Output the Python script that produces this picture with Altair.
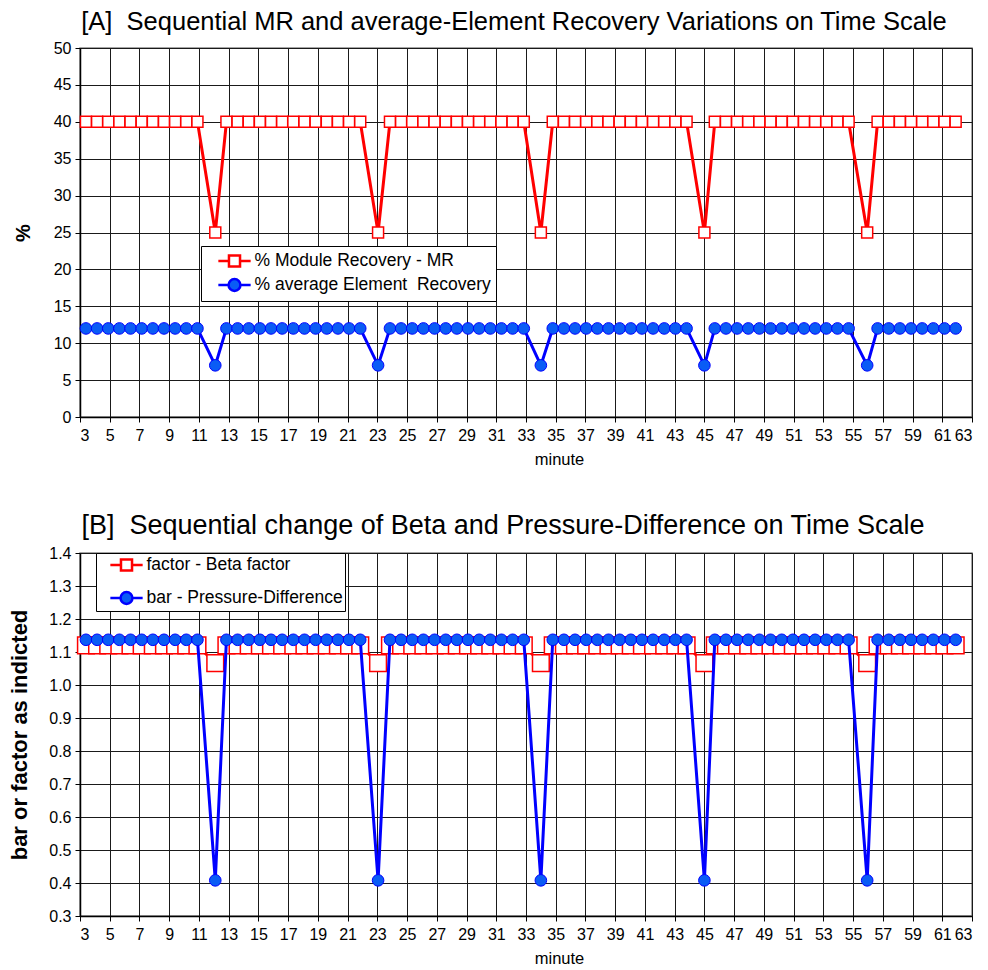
import altair as alt
import pandas as pd

# ---- data ----
minute = [3.4, 4.15, 4.9, 5.65, 6.4, 7.15, 7.9, 8.65, 9.4, 10.15, 10.9,
          12.1,
          12.85, 13.6, 14.35, 15.1, 15.85, 16.6, 17.35, 18.1, 18.85, 19.6, 20.35, 21.1, 21.85,
          23.05,
          23.85, 24.6, 25.35, 26.1, 26.85, 27.6, 28.35, 29.1, 29.85, 30.6, 31.35, 32.1, 32.85,
          34.0,
          34.8, 35.55, 36.3, 37.05, 37.8, 38.55, 39.3, 40.05, 40.8, 41.55, 42.3, 43.05, 43.8,
          45.0,
          45.7, 46.45, 47.2, 47.95, 48.7, 49.45, 50.2, 50.95, 51.7, 52.45, 53.2, 53.95, 54.7,
          55.95,
          56.65, 57.4, 58.15, 58.9, 59.65, 60.4, 61.15, 61.9]

module_recovery = [40, 40, 40, 40, 40, 40, 40, 40, 40, 40, 40,
                   25,
                   40, 40, 40, 40, 40, 40, 40, 40, 40, 40, 40, 40, 40,
                   25,
                   40, 40, 40, 40, 40, 40, 40, 40, 40, 40, 40, 40, 40,
                   25,
                   40, 40, 40, 40, 40, 40, 40, 40, 40, 40, 40, 40, 40,
                   25,
                   40, 40, 40, 40, 40, 40, 40, 40, 40, 40, 40, 40, 40,
                   25,
                   40, 40, 40, 40, 40, 40, 40, 40]

element_recovery = [12, 12, 12, 12, 12, 12, 12, 12, 12, 12, 12,
                    7,
                    12, 12, 12, 12, 12, 12, 12, 12, 12, 12, 12, 12, 12,
                    7,
                    12, 12, 12, 12, 12, 12, 12, 12, 12, 12, 12, 12, 12,
                    7,
                    12, 12, 12, 12, 12, 12, 12, 12, 12, 12, 12, 12, 12,
                    7,
                    12, 12, 12, 12, 12, 12, 12, 12, 12, 12, 12, 12, 12,
                    7,
                    12, 12, 12, 12, 12, 12, 12, 12]

beta_factor = [1.12, 1.12, 1.12, 1.12, 1.12, 1.12, 1.12, 1.12, 1.12, 1.12, 1.12,
               1.066,
               1.12, 1.12, 1.12, 1.12, 1.12, 1.12, 1.12, 1.12, 1.12, 1.12, 1.12, 1.12, 1.12,
               1.066,
               1.12, 1.12, 1.12, 1.12, 1.12, 1.12, 1.12, 1.12, 1.12, 1.12, 1.12, 1.12, 1.12,
               1.066,
               1.12, 1.12, 1.12, 1.12, 1.12, 1.12, 1.12, 1.12, 1.12, 1.12, 1.12, 1.12, 1.12,
               1.066,
               1.12, 1.12, 1.12, 1.12, 1.12, 1.12, 1.12, 1.12, 1.12, 1.12, 1.12, 1.12, 1.12,
               1.066,
               1.12, 1.12, 1.12, 1.12, 1.12, 1.12, 1.12, 1.12]

pressure_diff = [1.137, 1.137, 1.137, 1.137, 1.137, 1.137, 1.137, 1.137, 1.137, 1.137, 1.137,
                 0.408,
                 1.137, 1.137, 1.137, 1.137, 1.137, 1.137, 1.137, 1.137, 1.137, 1.137, 1.137, 1.137, 1.137,
                 0.408,
                 1.137, 1.137, 1.137, 1.137, 1.137, 1.137, 1.137, 1.137, 1.137, 1.137, 1.137, 1.137, 1.137,
                 0.408,
                 1.137, 1.137, 1.137, 1.137, 1.137, 1.137, 1.137, 1.137, 1.137, 1.137, 1.137, 1.137, 1.137,
                 0.408,
                 1.137, 1.137, 1.137, 1.137, 1.137, 1.137, 1.137, 1.137, 1.137, 1.137, 1.137, 1.137, 1.137,
                 0.408,
                 1.137, 1.137, 1.137, 1.137, 1.137, 1.137, 1.137, 1.137]

x_ticks = [3, 5, 7, 9, 11, 13, 15, 17, 19, 21, 23, 25, 27, 29, 31, 33,
           35, 37, 39, 41, 43, 45, 47, 49, 51, 53, 55, 57, 59, 61, 63]
y_ticks_a = [0, 5, 10, 15, 20, 25, 30, 35, 40, 45, 50]
y_ticks_b = [0.3, 0.4, 0.5, 0.6, 0.7, 0.8, 0.9, 1.0, 1.1, 1.2, 1.3, 1.4]

legend_a = ["% Module Recovery - MR", "% average Element\u00a0 Recovery"]
legend_b = ["factor - Beta factor", "bar - Pressure-Difference"]

title_a = "[A]\u00a0 Sequential MR and average-Element Recovery Variations on Time Scale"
title_b = "[B]\u00a0 Sequential change of Beta and Pressure-Difference on Time Scale"

# ---- styles ----
RED = "#FF0000"
BLUE = "#0000FF"
BLUE_FILL = "#0A5CF5"
FONT = "Liberation Sans"
WIDTH = 892

df = pd.DataFrame({"minute": minute, "mr": module_recovery, "er": element_recovery,
                   "beta": beta_factor, "dp": pressure_diff})

# legend symbols: line with marker (custom path)
SQ_PATH = "M-1.9,0H-0.65M0.65,0H1.9M-0.65,-0.65H0.65V0.65H-0.65Z"
CI_PATH = ("M-1.9,0H-0.7M0.7,0H1.9M0.7,0A0.7,0.7 0 1 1 -0.7,0"
           "A0.7,0.7 0 1 1 0.7,0Z")


def x_enc():
    return alt.X("minute:Q",
                 scale=alt.Scale(domain=[3, 63], nice=False, zero=False),
                 axis=alt.Axis(values=x_ticks, title="minute", format="d",
                               titleFontWeight="normal", titleFontSize=16.5,
                               titleX=WIDTH / 2 + 33,
                               titlePadding=8, labelPadding=5))


def panel(field1, field2, yt, ytitle, ytitle_size, ytitle_pad, sq_size, ci_size,
          labels, title, title_size, title_dx, lx, ly, row_pad, leg_pad, height, yfmt):
    ydom = [yt[0], yt[-1]]
    base = alt.Chart(df)
    ys = alt.Scale(domain=ydom, nice=False, zero=False)
    yax = alt.Axis(values=yt, title=ytitle, format=yfmt, titleFontWeight="bold",
                   titleFontSize=ytitle_size, titlePadding=ytitle_pad, labelPadding=4)
    l1 = base.mark_line(color=RED, strokeWidth=3).encode(
        x=x_enc(), y=alt.Y(f"{field1}:Q", scale=ys, axis=yax))
    p1 = base.mark_point(shape="square", filled=True, fill="white", stroke=RED,
                         strokeWidth=1.5, size=sq_size, opacity=1).encode(
        x=x_enc(), y=alt.Y(f"{field1}:Q", scale=ys, axis=yax))
    l2 = base.mark_line(color=BLUE, strokeWidth=3).encode(
        x=x_enc(), y=alt.Y(f"{field2}:Q", scale=ys, axis=yax))
    p2 = base.mark_point(shape="circle", filled=True, fill=BLUE_FILL, stroke=BLUE,
                         strokeWidth=1, size=ci_size, opacity=1).encode(
        x=x_enc(), y=alt.Y(f"{field2}:Q", scale=ys, axis=yax))

    leg = alt.Legend(title=None, orient="none", legendX=lx, legendY=ly,
                     strokeColor="black", fillColor="white", padding=leg_pad,
                     labelFont=FONT, labelFontSize=17.5, labelColor="black",
                     labelLimit=400, symbolSize=289, symbolStrokeWidth=2.5,
                     labelOffset=10, symbolOffset=18.5, rowPadding=row_pad,
                     symbolOpacity=1)
    ldf = pd.DataFrame({"series": labels})
    lg = alt.Chart(ldf).mark_point(filled=False, opacity=1).encode(
        color=alt.Color("series:N", scale=alt.Scale(domain=labels, range=[RED, BLUE]),
                        legend=leg),
        fill=alt.Fill("series:N", scale=alt.Scale(domain=labels, range=["white", BLUE_FILL]),
                      legend=leg),
        shape=alt.Shape("series:N", scale=alt.Scale(domain=labels, range=[SQ_PATH, CI_PATH]),
                        legend=leg),
    ).transform_filter("false")

    return alt.layer(l1, p1, l2, p2, lg).properties(
        width=WIDTH, height=height,
        title=alt.TitleParams(title, fontSize=title_size, font=FONT, fontWeight="normal",
                              anchor="middle", color="black", offset=1, dy=-4,
                              dx=title_dx))


chart_a = panel("mr", "er", y_ticks_a, "%", 20, 20, 121, 135, legend_a, title_a, 25.5, -12,
                121, 198, 2, 5, 369, "d")
chart_b = panel("beta", "dp", y_ticks_b, "bar or factor as indicted", 22, 17, 280, 135,
                legend_b, title_b, 27, -23, 16, 0, 11, 2, 363, ".1f")

chart = alt.vconcat(chart_a, chart_b, spacing=42).resolve_scale(
    color="independent", fill="independent", shape="independent"
).properties(
    padding={"left": 0, "top": 0, "right": 0, "bottom": 0}
).configure_axis(
    labelFont=FONT, titleFont=FONT, labelFontSize=16, labelColor="black",
    titleColor="black", tickColor="black", domainColor="black", tickSize=5,
    gridColor="#1a1a1a", gridWidth=1, gridOpacity=1, domainWidth=1.5
).configure_view(stroke="#888888", strokeWidth=1.5)

chart.save("out.html", embed_options={"renderer": "svg", "actions": False})
